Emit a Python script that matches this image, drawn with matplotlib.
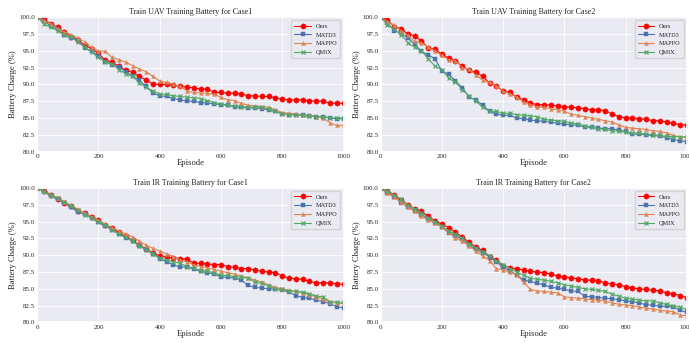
import numpy as np
import matplotlib
matplotlib.use("Agg")
import matplotlib.pyplot as plt
import seaborn as sns

# episodes where the markers sit (46 points, 0..1000)
episodes = np.linspace(0, 1000, 46)

# --- Train UAV, Case1
uav1_ours = [100, 99.7, 99.0, 98.5, 97.8, 97.1, 96.6, 95.8, 95.3, 94.6, 93.6, 93.3, 92.7, 92.1, 91.8, 91.2,
             90.6, 90.1, 90.0, 90.0, 89.9, 89.7, 89.6, 89.5, 89.3, 89.3, 88.8, 88.8, 88.7, 88.7, 88.6, 88.3,
             88.3, 88.2, 88.2, 88.0, 87.8, 87.7, 87.7, 87.7, 87.6, 87.5, 87.5, 87.2, 87.2, 87.2]
uav1_matd3 = [100, 99.4, 98.7, 98.2, 97.3, 96.9, 96.6, 95.4, 94.9, 94.2, 93.4, 92.9, 92.6, 91.9, 91.2, 90.6,
              89.7, 88.7, 88.3, 88.2, 87.9, 87.7, 87.5, 87.5, 87.3, 87.2, 87.1, 87.0, 86.9, 86.7, 86.6, 86.5,
              86.5, 86.4, 86.2, 86.0, 85.6, 85.5, 85.5, 85.4, 85.3, 85.2, 85.2, 85.0, 84.9, 84.9]
uav1_mappo = [100, 99.5, 99.0, 98.3, 97.8, 97.4, 96.9, 96.3, 95.5, 95.0, 94.9, 94.0, 93.7, 93.3, 92.8, 92.3,
              91.9, 91.2, 90.5, 90.3, 90.0, 89.7, 89.0, 88.8, 88.7, 88.7, 88.5, 88.1, 87.7, 87.6, 87.2, 86.9,
              86.8, 86.7, 86.6, 86.2, 85.8, 85.7, 85.6, 85.4, 85.4, 85.2, 85.0, 84.3, 83.9, 83.9]
uav1_qmix = [100, 99.0, 98.5, 98.0, 97.4, 97.0, 96.3, 95.5, 94.8, 94.0, 93.4, 93.0, 92.2, 91.6, 91.2, 90.2,
             89.6, 89.0, 88.6, 88.5, 88.3, 88.2, 88.1, 88.0, 87.9, 87.6, 87.3, 87.1, 86.9, 86.8, 86.7, 86.6,
             86.6, 86.7, 86.3, 86.0, 85.6, 85.5, 85.5, 85.4, 85.3, 85.2, 85.2, 85.0, 85.0, 85.0]

# --- Train UAV, Case2
uav2_ours = [100, 99.6, 98.6, 98.3, 97.5, 97.2, 96.5, 95.4, 95.2, 94.5, 93.9, 93.5, 92.7, 92.1, 91.8, 91.2,
             90.2, 89.8, 89.0, 88.8, 88.1, 87.7, 87.2, 87.0, 87.0, 86.9, 86.8, 86.7, 86.6, 86.5, 86.4, 86.2,
             86.2, 86.1, 85.6, 85.2, 85.0, 85.0, 84.9, 84.8, 84.6, 84.6, 84.4, 84.2, 84.0, 84.0]
uav2_matd3 = [100, 99.2, 98.0, 97.6, 96.9, 96.0, 94.9, 94.4, 93.8, 92.0, 91.5, 90.5, 89.5, 88.1, 87.7, 86.9,
              86.0, 85.6, 85.4, 85.4, 85.0, 84.9, 84.7, 84.6, 84.5, 84.4, 84.2, 84.1, 84.0, 83.9, 83.7, 83.6,
              83.5, 83.4, 83.4, 83.2, 83.0, 82.6, 82.6, 82.5, 82.4, 82.3, 82.1, 81.8, 81.6, 81.5]
uav2_mappo = [100, 99.3, 98.8, 98.0, 97.3, 96.4, 96.2, 95.5, 95.0, 94.3, 93.7, 93.5, 92.5, 92.3, 91.4, 90.6,
              90.3, 89.8, 89.0, 88.6, 88.1, 87.4, 87.0, 86.7, 86.6, 86.4, 86.2, 86.0, 85.6, 85.4, 85.2, 85.0,
              84.8, 84.6, 84.4, 84.0, 83.6, 83.5, 83.4, 83.3, 83.1, 83.0, 82.8, 82.4, 82.2, 82.1]
uav2_qmix = [100, 98.9, 98.2, 97.4, 96.2, 95.5, 95.0, 93.8, 92.7, 92.2, 90.9, 90.4, 89.2, 88.3, 87.5, 86.6,
             86.0, 86.0, 85.7, 85.7, 85.5, 85.4, 85.3, 85.2, 84.8, 84.7, 84.6, 84.5, 84.3, 84.1, 83.8, 83.7,
             83.4, 83.3, 83.1, 83.0, 82.9, 82.8, 82.7, 82.6, 82.5, 82.4, 82.3, 82.2, 82.2, 82.2]

# --- Train IR, Case1
ir1_ours = [100, 99.6, 99.0, 98.3, 97.8, 97.3, 96.6, 96.2, 95.7, 95.2, 94.5, 94.0, 93.4, 92.8, 92.2, 91.5,
            90.9, 90.3, 89.9, 89.7, 89.6, 89.5, 89.4, 88.8, 88.8, 88.7, 88.6, 88.6, 88.3, 88.2, 88.0, 88.0,
            87.8, 87.6, 87.5, 87.4, 86.9, 86.6, 86.5, 86.4, 86.1, 85.9, 85.9, 85.9, 85.7, 85.7]
ir1_matd3 = [100, 99.4, 98.8, 98.3, 97.7, 97.1, 96.4, 96.1, 95.5, 94.9, 94.3, 93.8, 93.2, 92.6, 92.1, 91.5,
             90.9, 90.2, 89.5, 89.0, 88.6, 88.2, 88.3, 87.9, 87.6, 87.4, 87.2, 86.8, 86.7, 86.6, 86.3, 85.5,
             85.2, 85.1, 85.0, 84.9, 84.8, 84.5, 84.0, 83.7, 83.6, 83.3, 83.1, 82.8, 82.3, 82.2]
ir1_mappo = [100, 99.5, 99.0, 98.5, 97.9, 97.4, 96.8, 96.2, 95.7, 95.2, 94.6, 94.1, 93.6, 93.2, 92.7, 92.1,
             91.5, 91.0, 90.6, 90.2, 89.8, 89.3, 89.0, 88.6, 88.3, 88.1, 87.9, 87.6, 87.4, 87.2, 86.9, 86.6,
             86.3, 86.0, 85.6, 85.2, 85.0, 84.8, 84.6, 84.4, 84.1, 83.8, 83.5, 83.0, 82.9, 82.8]
ir1_qmix = [100, 99.5, 98.9, 98.5, 97.9, 97.3, 96.7, 96.0, 95.6, 95.0, 94.5, 93.8, 93.1, 92.7, 92.1, 91.4,
            90.8, 90.2, 89.6, 89.3, 89.0, 88.8, 88.3, 88.1, 87.7, 87.6, 87.4, 87.0, 87.0, 86.8, 86.7, 86.6,
            86.0, 85.8, 85.4, 85.0, 84.9, 84.7, 84.6, 84.5, 84.3, 83.9, 83.8, 83.1, 83.0, 83.0]

# --- Train IR, Case2
ir2_ours = [100, 99.5, 98.9, 98.2, 97.5, 96.9, 96.5, 95.8, 95.1, 94.6, 94.1, 93.4, 92.7, 91.9, 91.2, 90.7,
            89.8, 89.3, 88.4, 88.1, 88.0, 87.8, 87.6, 87.5, 87.4, 87.2, 86.9, 86.8, 86.6, 86.5, 86.3, 86.3,
            86.2, 85.9, 85.7, 85.6, 85.3, 85.1, 85.0, 84.9, 84.8, 84.7, 84.4, 84.3, 84.0, 83.7]
ir2_matd3 = [100, 99.2, 98.7, 97.8, 97.2, 96.6, 96.0, 95.4, 94.8, 94.2, 93.3, 92.9, 92.4, 91.5, 90.9, 90.3,
             89.8, 89.0, 88.2, 87.6, 87.1, 86.3, 86.1, 85.8, 85.6, 85.2, 85.1, 84.9, 84.7, 84.6, 83.9, 83.8,
             83.7, 83.6, 83.5, 83.4, 83.2, 83.1, 82.9, 82.6, 82.6, 82.4, 82.4, 82.3, 81.8, 81.5]
ir2_mappo = [100, 99.3, 98.7, 97.9, 97.2, 96.5, 95.9, 95.2, 94.8, 94.2, 93.4, 92.6, 92.1, 91.4, 90.6, 89.9,
             89.2, 88.0, 87.8, 87.5, 87.1, 86.0, 84.9, 84.7, 84.6, 84.5, 84.4, 83.8, 83.7, 83.6, 83.5, 83.4,
             83.3, 83.2, 82.9, 82.7, 82.6, 82.5, 82.3, 82.1, 82.0, 81.8, 81.7, 81.6, 81.1, 81.0]
ir2_qmix = [100, 99.6, 99.0, 98.3, 97.5, 96.9, 96.3, 95.6, 95.0, 94.3, 93.6, 93.1, 92.5, 91.7, 91.1, 90.5,
            89.9, 89.2, 88.6, 88.0, 87.5, 87.0, 86.6, 86.4, 86.3, 86.1, 85.9, 85.6, 85.4, 85.2, 85.0, 84.9,
            84.8, 84.6, 84.2, 83.9, 83.6, 83.5, 83.3, 83.2, 83.2, 82.9, 82.7, 82.4, 82.3, 81.9]

titles = ["Train UAV Training Battery for Case1", "Train UAV Training Battery for Case2",
          "Train IR Training Battery for Case1", "Train IR Training Battery for Case2"]
panels = [
    [uav1_ours, uav1_matd3, uav1_mappo, uav1_qmix],
    [uav2_ours, uav2_matd3, uav2_mappo, uav2_qmix],
    [ir1_ours, ir1_matd3, ir1_mappo, ir1_qmix],
    [ir2_ours, ir2_matd3, ir2_mappo, ir2_qmix],
]
names = ["Ours", "MATD3", "MAPPO", "QMIX"]
colors = ["#ff0000", "#4c72b0", "#dd8452", "#55a868"]
markers = ["o", "s", "^", "x"]
msizes = [3.8, 3.5, 2.8, 3.4]

sns.set_theme(style="darkgrid")
plt.rcParams["font.family"] = ["Liberation Serif", "DejaVu Serif"]

fig, axes = plt.subplots(2, 2, figsize=(6.89, 3.43), dpi=100)
fig.subplots_adjust(left=0.054, right=0.997, top=0.95, bottom=0.06, wspace=0.121, hspace=0.27)

for ax, title, series in zip(axes.flat, titles, panels):
    for vals, name, c, m, ms in zip(series, names, colors, markers, msizes):
        ax.plot(episodes, vals, color=c, marker=m, markersize=ms, linewidth=0.8,
                markeredgewidth=0.9 if m == "x" else 0.3, label=name)
    ax.set_xlim(0, 1000)
    ax.set_ylim(80, 100)
    ax.set_yticks([80, 82.5, 85, 87.5, 90, 92.5, 95, 97.5, 100])
    ax.set_yticklabels(["80.0", "82.5", "85.0", "87.5", "90.0", "92.5", "95.0", "97.5", "100.0"])
    ax.set_xticks([0, 200, 400, 600, 800, 1000])
    ax.tick_params(labelsize=5, pad=1.5, length=0)
    ax.set_title(title, fontsize=5.8, pad=2)
    ax.set_xlabel("Episode", fontsize=6.2, labelpad=0.5)
    ax.set_ylabel("Battery Charge (%)", fontsize=6.2, labelpad=1.5)
    ax.grid(linewidth=0.6)
    ax.legend(loc="upper right", fontsize=4.5, handlelength=2.6, borderpad=0.5, labelspacing=0.55)

fig.savefig("out.png", dpi=100)
